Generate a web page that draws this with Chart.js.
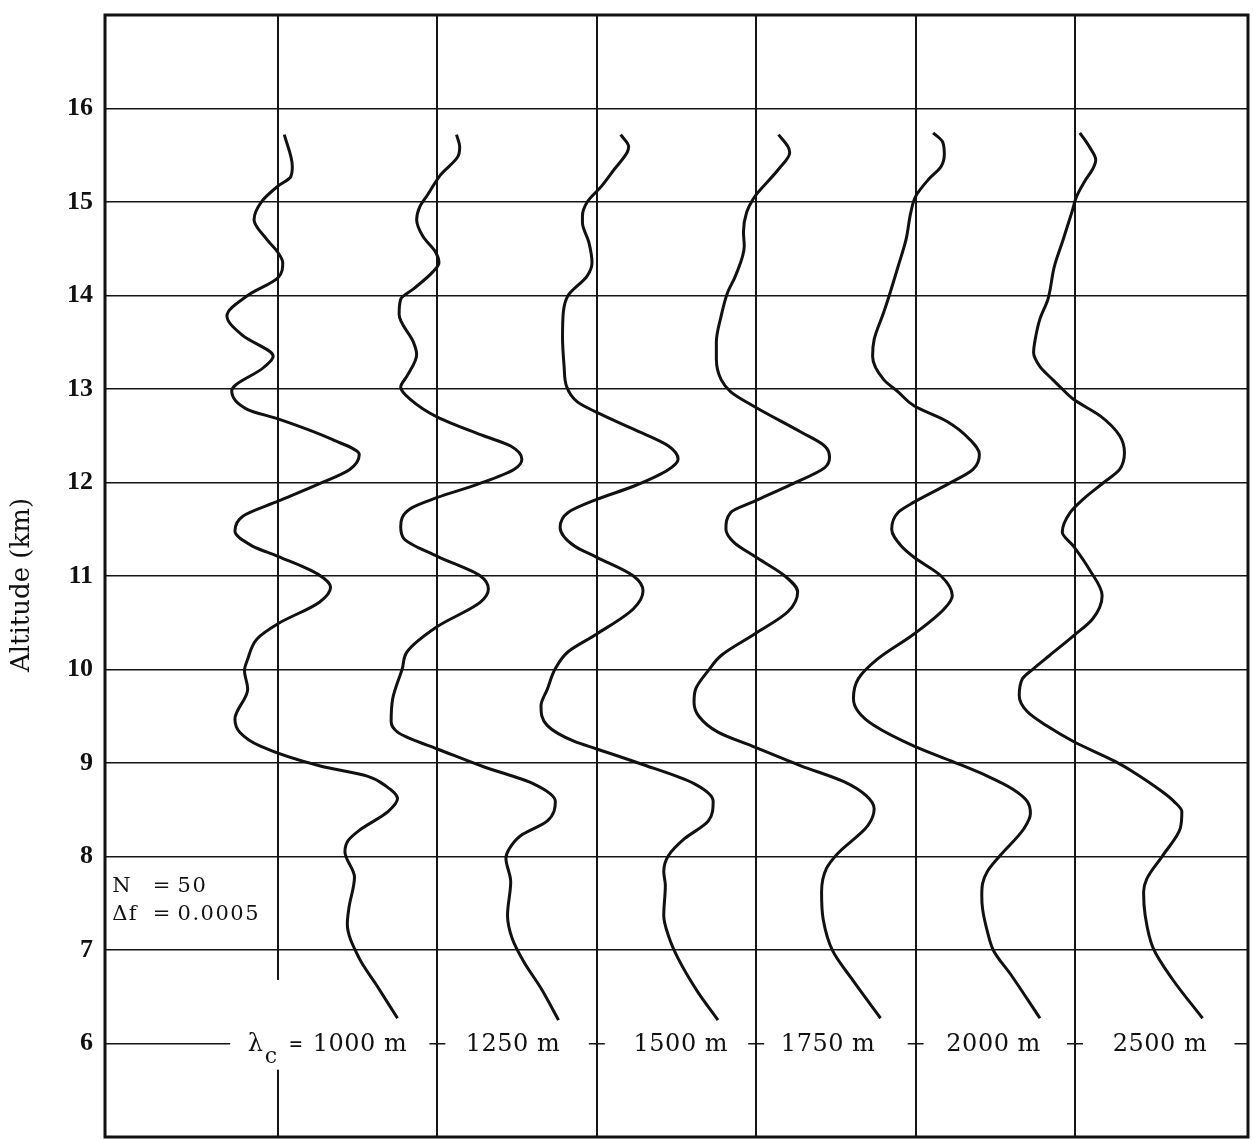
<!DOCTYPE html>
<html>
<head>
<meta charset="utf-8">
<title>Altitude profiles</title>
<script src="https://cdn.jsdelivr.net/npm/chart.js@4/dist/chart.umd.min.js"></script>
<style>
  html, body { margin: 0; padding: 0; background: #fff; }
  #wrap { width: 1253px; height: 1140px; position: relative; }
</style>
</head>
<body>
<div id="wrap"><canvas id="chart"></canvas></div>
<script>
// Cutoff wavelength of each trace, one per panel
const cutoffLabels = ['1000 m', '1250 m', '1500 m', '1750 m', '2000 m', '2500 m'];
const panelLines = [1, 2, 3, 4, 5, 6];
const altitudeTicks = [6, 7, 8, 9, 10, 11, 12, 13, 14, 15, 16];

// Each trace: [altitude (km), offset from its panel line]
const trace1000 = [
    [15.72, 0.04], [15.38, 0.09], [15.27, 0.08], [15.17, 0.00], [15.01, -0.10],
    [14.81, -0.15], [14.60, -0.07], [14.46, 0.00], [14.35, 0.03], [14.19, 0.00],
    [14.00, -0.19], [13.78, -0.32], [13.57, -0.22], [13.35, -0.03], [13.23, -0.09],
    [12.98, -0.29], [12.78, -0.19], [12.68, 0.00], [12.46, 0.34], [12.30, 0.51],
    [12.14, 0.45], [11.98, 0.25], [11.80, 0.00], [11.64, -0.22], [11.48, -0.27],
    [11.32, -0.16], [11.21, 0.00], [11.02, 0.25], [10.88, 0.33], [10.72, 0.26],
    [10.49, 0.00], [10.33, -0.13], [10.11, -0.19], [9.99, -0.21], [9.79, -0.19],
    [9.47, -0.27], [9.33, -0.24], [9.18, -0.11], [8.97, 0.26], [8.86, 0.56],
    [8.75, 0.68], [8.62, 0.75], [8.48, 0.69], [8.28, 0.51], [8.17, 0.44],
    [8.05, 0.42], [7.78, 0.48], [7.45, 0.445], [7.28, 0.435], [6.91, 0.51],
    [6.62, 0.62], [6.27, 0.75]
];
const trace1250 = [
    [15.72, 0.12], [15.59, 0.14], [15.49, 0.13], [15.29, 0.02], [15.08, -0.06],
    [14.95, -0.11], [14.81, -0.13], [14.63, -0.09], [14.46, -0.01], [14.35, 0.01],
    [14.25, -0.03], [14.07, -0.15], [13.96, -0.23], [13.80, -0.24], [13.50, -0.15],
    [13.37, -0.13], [13.14, -0.19], [13.02, -0.23], [12.89, -0.17], [12.70, 0.00],
    [12.50, 0.29], [12.39, 0.46], [12.25, 0.53], [12.14, 0.48], [11.98, 0.25],
    [11.84, 0.00], [11.72, -0.17], [11.53, -0.23], [11.40, -0.21], [11.21, 0.00],
    [11.00, 0.27], [10.86, 0.32], [10.72, 0.27], [10.46, 0.00], [10.19, -0.19],
    [10.01, -0.22], [9.69, -0.28], [9.44, -0.29], [9.33, -0.25], [9.26, -0.17],
    [9.15, 0.00], [8.96, 0.29], [8.78, 0.60], [8.59, 0.74], [8.38, 0.69],
    [8.22, 0.52], [8.08, 0.45], [7.98, 0.43], [7.73, 0.46], [7.37, 0.44],
    [7.12, 0.47], [6.88, 0.54], [6.59, 0.65], [6.25, 0.76]
];
const trace1500 = [
    [15.72, 0.15], [15.59, 0.20], [15.53, 0.19], [15.35, 0.11], [15.17, 0.03],
    [15.00, -0.06], [14.85, -0.09], [14.78, -0.09], [14.57, -0.05], [14.35, -0.03],
    [14.21, -0.06], [14.00, -0.18], [13.82, -0.21], [13.55, -0.215], [13.24, -0.205],
    [13.03, -0.19], [12.86, -0.12], [12.75, 0.00], [12.57, 0.23], [12.39, 0.45],
    [12.25, 0.51], [12.14, 0.45], [11.96, 0.23], [11.82, 0.00], [11.68, -0.18],
    [11.52, -0.23], [11.32, -0.14], [11.20, 0.00], [11.00, 0.23], [10.84, 0.29],
    [10.65, 0.23], [10.38, 0.00], [10.19, -0.18], [10.01, -0.26], [9.79, -0.31],
    [9.61, -0.35], [9.40, -0.31], [9.23, -0.14], [9.15, 0.00], [9.00, 0.26],
    [8.78, 0.61], [8.59, 0.73], [8.38, 0.70], [8.19, 0.55], [8.01, 0.45],
    [7.84, 0.42], [7.69, 0.43], [7.37, 0.42], [7.15, 0.45], [6.91, 0.51],
    [6.56, 0.63], [6.25, 0.76]
];
const trace1750 = [
    [15.72, 0.14], [15.59, 0.20], [15.53, 0.21], [15.35, 0.14], [15.10, 0.01],
    [15.03, -0.02], [14.89, -0.06], [14.68, -0.08], [14.53, -0.075], [14.21, -0.13],
    [14.03, -0.18], [13.78, -0.22], [13.50, -0.25], [13.32, -0.25], [13.10, -0.22],
    [12.97, -0.16], [12.81, -0.01], [12.54, 0.28], [12.39, 0.43], [12.27, 0.46],
    [12.16, 0.43], [11.98, 0.22], [11.80, -0.01], [11.68, -0.16], [11.50, -0.19],
    [11.36, -0.14], [11.21, -0.01], [11.00, 0.18], [10.83, 0.26], [10.62, 0.20],
    [10.38, -0.01], [10.15, -0.22], [9.99, -0.30], [9.79, -0.38], [9.65, -0.39],
    [9.50, -0.36], [9.33, -0.24], [9.17, -0.01], [8.97, 0.28], [8.80, 0.55],
    [8.65, 0.69], [8.51, 0.74], [8.33, 0.70], [8.03, 0.51], [7.87, 0.44],
    [7.62, 0.41], [7.33, 0.42], [6.99, 0.48], [6.69, 0.60], [6.27, 0.78]
];
const trace2000 = [
    [15.74, 0.11], [15.64, 0.17], [15.51, 0.18], [15.38, 0.16], [15.24, 0.08],
    [15.06, 0.00], [14.89, -0.03], [14.60, -0.06], [14.31, -0.11], [14.03, -0.16],
    [13.82, -0.20], [13.53, -0.26], [13.35, -0.27], [13.10, -0.20],
    [12.97, -0.11], [12.82, -0.01], [12.65, 0.20], [12.46, 0.34], [12.30, 0.40],
    [12.14, 0.36], [11.98, 0.20], [11.79, -0.01], [11.68, -0.11], [11.50, -0.15],
    [11.32, -0.09], [11.20, -0.01], [11.00, 0.16], [10.79, 0.23], [10.65, 0.18],
    [10.38, -0.01], [10.11, -0.24], [9.90, -0.36], [9.69, -0.39], [9.55, -0.36],
    [9.40, -0.26], [9.18, -0.01], [9.01, 0.24], [8.86, 0.45], [8.72, 0.61],
    [8.59, 0.70], [8.46, 0.72], [8.30, 0.68], [8.01, 0.53], [7.84, 0.45],
    [7.71, 0.42], [7.58, 0.415], [7.44, 0.42], [7.20, 0.45], [6.99, 0.49],
    [6.73, 0.60], [6.27, 0.78]
];
const trace2500 = [
    [15.74, 0.03], [15.59, 0.09], [15.45, 0.13], [15.35, 0.11], [15.22, 0.06],
    [15.06, 0.01], [14.89, -0.02], [14.57, -0.08], [14.31, -0.13], [13.96, -0.17],
    [13.75, -0.22], [13.53, -0.25], [13.39, -0.26], [13.24, -0.22], [13.10, -0.14],
    [13.00, -0.08], [12.89, -0.01], [12.71, 0.16], [12.50, 0.28], [12.32, 0.31],
    [12.14, 0.28], [12.00, 0.18], [11.82, 0.05], [11.68, -0.03], [11.47, -0.08],
    [11.32, -0.01], [11.07, 0.09], [10.79, 0.17], [10.54, 0.11], [10.36, -0.01],
    [10.15, -0.16], [10.01, -0.26], [9.90, -0.33], [9.72, -0.35], [9.55, -0.30],
    [9.40, -0.18], [9.23, -0.01], [9.01, 0.26], [8.91, 0.36], [8.69, 0.55],
    [8.59, 0.62], [8.48, 0.67], [8.30, 0.66], [8.01, 0.55], [7.76, 0.45],
    [7.62, 0.43], [7.37, 0.44], [7.02, 0.49], [6.69, 0.61], [6.27, 0.80]
];
const traces = [trace1000, trace1250, trace1500, trace1750, trace2000, trace2500];

// Where the cutoff labels sit along the 6 km line
const labelCenters = [1.514, 2.474, 3.527, 4.451, 5.489, 6.533];
const labelMasks = [[0.70, 1.95], [2.05, 2.95], [3.05, 3.95], [4.05, 4.95], [5.05, 5.95], [6.05, 7.0]];
const labelAltitude = 6;

const serif = '"DejaVu Serif", serif';
const ink = '#111';

function setSpacing(ctx, px) {
    if ('letterSpacing' in ctx) ctx.letterSpacing = px + 'px';
}

// Frame around the plot area and the rotated axis title
const framePlugin = {
    id: 'frame',
    afterDatasetsDraw(chart) {
        const { ctx, chartArea: a } = chart;
        ctx.save();
        ctx.strokeStyle = ink;
        ctx.lineWidth = 3;
        ctx.strokeRect(a.left, a.top, a.right - a.left, a.bottom - a.top);

        ctx.translate(a.left - 83, (a.top + a.bottom) / 2 + 9);
        ctx.rotate(-Math.PI / 2);
        ctx.fillStyle = ink;
        ctx.font = '26px ' + serif;
        ctx.textAlign = 'center';
        ctx.textBaseline = 'middle';
        ctx.fillText('Altitude (km)', 0, 0);
        ctx.restore();
    }
};

// Cutoff labels along the 6 km line and the N / delta-f note
const labelPlugin = {
    id: 'cutoffLabels',
    beforeDatasetsDraw(chart) {
        const { ctx, scales: { x, y } } = chart;
        const yPix = y.getPixelForValue(labelAltitude);
        ctx.save();
        ctx.fillStyle = '#fff';
        labelMasks.forEach(([a, b]) => {
            const x0 = x.getPixelForValue(a);
            const x1 = x.getPixelForValue(b);
            ctx.fillRect(x0, yPix - 4, x1 - x0, 8);
        });
        // break in the first panel line behind the first label
        const gx = x.getPixelForValue(panelLines[0]);
        const gTop = y.getPixelForValue(6.68);
        const gBot = y.getPixelForValue(5.72);
        ctx.fillRect(gx - 3, gTop, 6, gBot - gTop);

        ctx.fillStyle = ink;
        ctx.font = '24px ' + serif;
        ctx.textBaseline = 'alphabetic';
        const base = yPix + 7;
        cutoffLabels.forEach((txt, i) => {
            const cx = x.getPixelForValue(labelCenters[i]);
            ctx.textAlign = 'center';
            setSpacing(ctx, 0.5);
            ctx.fillText(txt, cx, base);
            if (i === 0) {
                const w = ctx.measureText(txt).width;
                const left = cx - w / 2;
                ctx.textAlign = 'left';
                setSpacing(ctx, 0);
                ctx.fillText('\u03bb', left - 65, base);
                ctx.font = '22px ' + serif;
                ctx.fillText('c', left - 48, base + 12);
                ctx.font = 'bold 17px ' + serif;
                ctx.fillText('=', left - 24, base - 2);
                ctx.font = '24px ' + serif;
            }
        });

        // run parameters
        ctx.font = '21px ' + serif;
        ctx.textAlign = 'left';
        setSpacing(ctx, 1.5);
        const nx = x.getPixelForValue(-0.04);
        const ex = x.getPixelForValue(0.215);
        const vx = x.getPixelForValue(0.37);
        const y1 = y.getPixelForValue(7.62);
        const y2 = y.getPixelForValue(7.32);
        ctx.fillText('N', nx, y1);
        ctx.fillText('=', ex, y1);
        ctx.fillText('50', vx, y1);
        ctx.fillText('\u0394f', nx, y2);
        ctx.fillText('=', ex, y2);
        ctx.fillText('0.0005', vx, y2);
        ctx.restore();
    }
};

// Altitude is the index axis, so the monotone spline runs down each trace
const datasets = traces.map((trace, i) => ({
    label: cutoffLabels[i],
    data: trace.map(([alt, off]) => ({ x: panelLines[i] + off, y: alt })),
    showLine: true,
    borderColor: ink,
    borderWidth: 3,
    pointRadius: 0,
    cubicInterpolationMode: 'monotone',
    fill: false
}));

new Chart(document.getElementById('chart'), {
    type: 'scatter',
    data: { datasets },
    options: {
        indexAxis: 'y',
        responsive: true,
        maintainAspectRatio: false,
        animation: false,
        layout: { padding: { left: 0, top: 15, right: 5, bottom: 3 } },
        plugins: {
            legend: { display: false },
            tooltip: { enabled: false }
        },
        scales: {
            x: {
                type: 'linear',
                min: -0.085,
                max: 7.085,
                afterBuildTicks: (scale) => { scale.ticks = panelLines.map(v => ({ value: v })); },
                ticks: { display: false },
                grid: { color: '#151515', lineWidth: 2, drawTicks: false },
                border: { display: false }
            },
            y: {
                type: 'linear',
                min: 5,
                max: 17,
                afterBuildTicks: (scale) => { scale.ticks = altitudeTicks.map(v => ({ value: v })); },
                afterFit: (scale) => {
                    scale.width = 105;
                    scale.paddingTop = 0;
                    scale.paddingBottom = 0;
                },
                ticks: {
                    color: ink,
                    padding: 12,
                    font: { family: '"Liberation Serif", serif', size: 26, weight: 'bold' }
                },
                grid: { color: '#151515', lineWidth: 1.6, drawTicks: false },
                border: { display: false }
            }
        }
    },
    plugins: [labelPlugin, framePlugin]
});
</script>
</body>
</html>
